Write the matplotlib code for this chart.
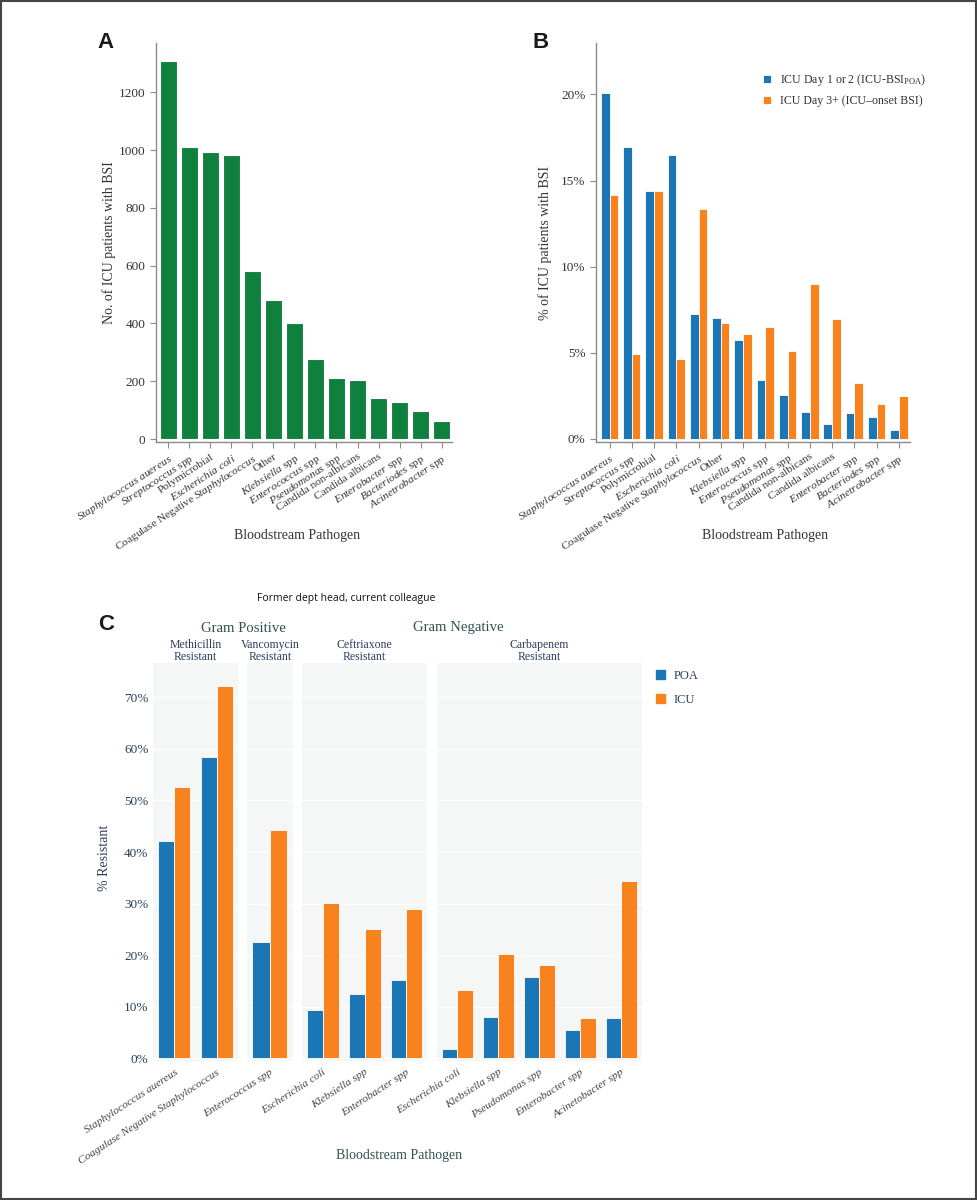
import numpy as np
import matplotlib
matplotlib.use('Agg')
import matplotlib.pyplot as plt
from matplotlib.patches import Patch, Rectangle

plt.rcParams['font.family'] = ['Liberation Serif', 'DejaVu Serif']
plt.rcParams['mathtext.fontset'] = 'custom'
plt.rcParams['mathtext.rm'] = 'Liberation Serif'
plt.rcParams['mathtext.it'] = 'Liberation Serif:italic'

# ---- data ----
pathogens = [r'$\it{Staphylococcus\ auereus}$', r'$\it{Streptococcus}$ spp', 'Polymicrobial',
             r'$\it{Escherichia\ coli}$', r'Coagulase Negative $\it{Staphylococcus}$', 'Other',
             r'$\it{Klebsiella}$ spp', r'$\it{Enterococcus}$ spp', r'$\it{Pseudomonas}$ spp',
             'Candida non-albicans', 'Candida albicans', r'$\it{Enterobacter}$ spp',
             r'$\it{Bacteriodes}$ spp', r'$\it{Acinetrobacter}$ spp']
patient_counts = [1307, 1012, 993, 985, 580, 481, 402, 276, 210, 205, 141, 128, 98, 63]
pct_poa = [20.06, 16.93, 14.39, 16.5, 7.25, 7.04, 5.76, 3.4, 2.55, 1.55, 0.89, 1.51, 1.26, 0.54]
pct_onset = [14.14, 4.93, 14.39, 4.64, 13.37, 6.71, 6.09, 6.48, 5.11, 9.0, 6.95, 3.25, 2.01, 2.5]

groups = ['Methicillin\nResistant', 'Vancomycin\nResistant', 'Ceftriaxone\nResistant', 'Carbapenem\nResistant']
group_pathogens = [
    ['Staphylococcus auereus', 'Coagulase Negative Staphylococcus'],
    ['Enterococcus spp'],
    ['Escherichia coli', 'Klebsiella spp', 'Enterobacter spp'],
    ['Escherichia coli', 'Klebsiella spp', 'Pseudomonas spp', 'Enterobacter spp', 'Acinetobacter spp'],
]
resist_poa = [[42.1, 58.4], [22.6], [9.3, 12.5, 15.2], [1.8, 8.1, 15.8, 5.5, 7.9]]
resist_icu = [[52.7, 72.1], [44.2], [30.1, 25.0, 28.9], [13.2, 20.2, 18.1, 7.9, 34.4]]

GREEN = '#10803e'
BLUE = '#1a76b4'
ORANGE = '#f7821e'
TXT = '#333333'
PLOTLY_TXT = '#2a3f5f'
SLATE = '#2f5450'

W, H = 977, 1200
fig = plt.figure(figsize=(W / 100, H / 100), dpi=100)


def px_axes(left, right, top, bottom):
    # place an axes using pixel coordinates of the reference picture
    return fig.add_axes([left / W, 1 - bottom / H, (right - left) / W, (bottom - top) / H])


def style_classic(ax):
    for side in ['top', 'right']:
        ax.spines[side].set_visible(False)
    for side in ['left', 'bottom']:
        ax.spines[side].set_color('#8a8a8a')
        ax.spines[side].set_linewidth(1)
    ax.tick_params(colors='#8a8a8a', labelcolor=TXT, length=4)
    ax.tick_params(axis='y', labelsize=9.5)
    ax.tick_params(axis='x', labelsize=8.2)


# ---- panel A ----
axA = px_axes(155.7, 451.7, 43.3, 441.7)
x = np.arange(len(pathogens))
axA.bar(x, patient_counts, width=0.8, color=GREEN, edgecolor='white', linewidth=0.8)
axA.set_xlim(-0.6, 13.48)
axA.set_ylim(-9.3, 1370)
axA.set_yticks(range(0, 1201, 200))
axA.set_xticks(x)
axA.set_xticklabels(pathogens, rotation=33, ha='right', rotation_mode='anchor')
style_classic(axA)
axA.set_ylabel('No. of ICU patients with BSI', fontsize=10, color=TXT)
axA.yaxis.set_label_coords(-0.134, 0.5)
axA.set_xlabel('Bloodstream Pathogen', fontsize=10, color=TXT)
axA.xaxis.set_label_coords(0.477, -0.219)

# ---- panel B ----
axB = px_axes(596, 910, 43.3, 441.7)
axB.bar(x - 0.195, pct_poa, width=0.39, color=BLUE, edgecolor='white', linewidth=0.6,
        label=r'ICU Day 1 or 2 (ICU-BSI$_{\rm POA}$)')
axB.bar(x + 0.195, pct_onset, width=0.39, color=ORANGE, edgecolor='white', linewidth=0.6,
        label='ICU Day 3+ (ICU\u2013onset BSI)')
axB.set_xlim(-0.607, 13.5)
axB.set_ylim(-0.157, 22.97)
axB.set_yticks(range(0, 21, 5))
axB.set_yticklabels([f'{v}%' for v in range(0, 21, 5)])
axB.set_xticks(x)
axB.set_xticklabels(pathogens, rotation=33, ha='right', rotation_mode='anchor')
style_classic(axB)
axB.set_ylabel('% of ICU patients with BSI', fontsize=10, color=TXT)
axB.yaxis.set_label_coords(-0.14, 0.5)
axB.set_xlabel('Bloodstream Pathogen', fontsize=10, color=TXT)
axB.xaxis.set_label_coords(0.537, -0.219)
axB.legend(loc='upper left', bbox_to_anchor=(763 / W, 1 - 72 / H), bbox_transform=fig.transFigure,
           frameon=False, fontsize=8.6, handlelength=0.7, handleheight=0.7, handletextpad=0.7,
           labelspacing=0.62, borderpad=0, borderaxespad=0, labelcolor=TXT)

# ---- panel C ----
panel_px = [(153.3, 237.7), (247, 292.7), (302, 427.3), (436.7, 641.7)]
c_top, c_bottom = 662.7, 1060.7
for i, (l, r) in enumerate(panel_px):
    ax = px_axes(l, r, c_top, c_bottom)
    ax.set_facecolor('#f5f7f7')
    n = len(group_pathogens[i])
    xi = np.arange(n)
    ax.bar(xi - 0.19, resist_poa[i], width=0.38, color=BLUE, edgecolor='white', linewidth=0.6, zorder=3)
    ax.bar(xi + 0.19, resist_icu[i], width=0.38, color=ORANGE, edgecolor='white', linewidth=0.6, zorder=3)
    ax.set_xlim(-0.5, n - 0.5)
    ax.set_ylim(-0.45, 76.7)
    ax.set_yticks(range(0, 71, 10))
    ax.grid(axis='y', color='white', linewidth=1, zorder=0)
    for s in ax.spines.values():
        s.set_visible(False)
    ax.tick_params(length=0, labelcolor=PLOTLY_TXT)
    ax.tick_params(axis='y', labelsize=9.5)
    ax.tick_params(axis='x', labelsize=8.2, pad=5)
    ax.set_xticks(xi)
    ax.set_xticklabels(group_pathogens[i], rotation=33, ha='right', rotation_mode='anchor',
                       fontstyle='italic', color='#444444')
    if i == 0:
        ax.set_yticklabels([f'{v}%' for v in range(0, 71, 10)])
    else:
        ax.set_yticklabels([])
    fig.text((l + r) / 2 / W, 1 - 651 / H, groups[i], ha='center', va='center',
             fontsize=8.5, color=PLOTLY_TXT, linespacing=1.1)

fig.text(243 / W, 1 - 628 / H, 'Gram Positive', ha='center', va='center', fontsize=10.6, color=SLATE)
fig.text(458 / W, 1 - 628 / H, 'Gram Negative', ha='center', va='center', fontsize=10.6, color=SLATE)
fig.text(105 / W, 1 - 858 / H, '% Resistant', rotation=90, ha='center', va='center',
         fontsize=10, color=PLOTLY_TXT)
fig.text(399 / W, 1 - 1155 / H, 'Bloodstream Pathogen', ha='center', va='center', fontsize=10, color=SLATE)

c_handles = [Patch(color=BLUE), Patch(color=ORANGE)]
fig.legend(c_handles, ['POA', 'ICU'], loc='upper left', bbox_to_anchor=(656 / W, 1 - 670 / H),
           frameon=False, fontsize=9, handlelength=0.7, handleheight=0.7, handletextpad=0.7,
           labelspacing=0.95, borderpad=0, borderaxespad=0, labelcolor=PLOTLY_TXT)

# ---- annotations ----
fig.text(346 / W, 1 - 598 / H, 'Former dept head, current colleague', ha='center', va='center',
         fontsize=7.5, family='Open Sans', color='#111111')
for letter, (lx, ly) in {'A': (106, 43), 'B': (541, 43), 'C': (106, 625)}.items():
    fig.text(lx / W, 1 - ly / H, letter, ha='center', va='center', fontsize=16,
             fontweight='bold', family='Liberation Sans', color='#1a1a1a')

# border around the whole figure
fig.patches.append(Rectangle((0.001, 0.001), 0.998, 0.998, transform=fig.transFigure,
                             fill=False, edgecolor='#444444', linewidth=1.5))

fig.savefig('out.png', dpi=100)
plt.close(fig)
